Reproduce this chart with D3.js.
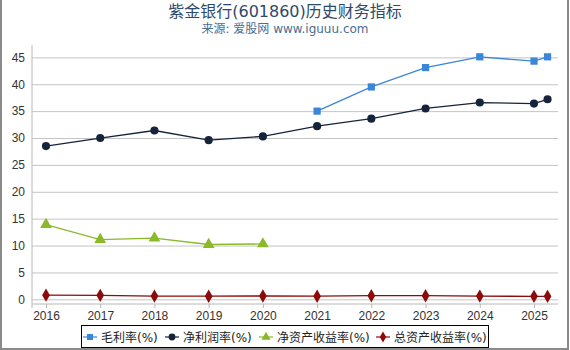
<!DOCTYPE html>
<html>
<head>
<meta charset="utf-8">
<script src="https://cdn.jsdelivr.net/npm/d3@7"></script>
<style>
  body { margin: 0; background: #fff; }
  svg { font-family: "DejaVu Sans", "Noto Sans CJK SC", sans-serif; display: block; }
</style>
</head>
<body>
<svg width="570" height="350"></svg>
<script>
const years = [2016, 2017, 2018, 2019, 2020, 2021, 2022, 2023, 2024, 2025, 2025.25];
const yearTicks = [2016, 2017, 2018, 2019, 2020, 2021, 2022, 2023, 2024, 2025];
const yTicks = [0, 5, 10, 15, 20, 25, 30, 35, 40, 45];

const grossMargin = [null, null, null, null, null, 35.0, 39.5, 43.1, 45.1, 44.3, 45.1];
const netMargin = [28.5, 30.0, 31.4, 29.6, 30.3, 32.2, 33.6, 35.5, 36.6, 36.4, 37.2];
const roe = [13.9, 11.1, 11.4, 10.2, 10.3, null, null, null, null, null, null];
const roa = [0.78, 0.74, 0.6, 0.58, 0.62, 0.58, 0.68, 0.68, 0.6, 0.55, 0.55];

const seriesNames = ['毛利率(%)', '净利润率(%)', '净资产收益率(%)', '总资产收益率(%)'];
const seriesColors = ['#3a86d8', '#15233b', '#8ab92a', '#8e0a0a'];
const seriesShapes = [d3.symbolSquare, d3.symbolCircle, d3.symbolTriangle, d3.symbolDiamond];
const seriesValues = [grossMargin, netMargin, roe, roa];

const svg = d3.select('svg');
const width = +svg.attr('width');
const height = +svg.attr('height');

const margin = { top: 45, right: 12, bottom: 46, left: 32 };

const xScale = d3.scaleLinear()
    .domain([2016, 2025])
    .range([46, 534]);

const yScale = d3.scaleLinear()
    .domain([-0.87, 47.3])
    .range([304, 45]);

const xEnd = 558;

// title
svg.append('text')
    .attr('x', width / 2)
    .attr('y', 17)
    .attr('text-anchor', 'middle')
    .attr('font-size', 16)
    .attr('fill', '#2d4a6b')
    .text('紫金银行(601860)历史财务指标');

svg.append('text')
    .attr('x', width / 2)
    .attr('y', 33)
    .attr('text-anchor', 'middle')
    .attr('font-size', 12)
    .attr('fill', '#4a6d92')
    .text('来源: 爱股网 www.iguuu.com');

// grid + y axis
const yAxis = d3.axisLeft(yScale)
    .tickValues(yTicks)
    .tickSize(-(xEnd - margin.left))
    .tickPadding(7);

const yAxisG = svg.append('g')
    .attr('transform', `translate(${margin.left},0)`)
    .call(yAxis);

yAxisG.select('.domain').remove();
yAxisG.selectAll('.tick line').attr('stroke', '#c4c4c4');
yAxisG.selectAll('.tick text')
    .attr('font-size', 12)
    .attr('fill', '#333');

svg.append('line')
    .attr('x1', margin.left).attr('x2', margin.left)
    .attr('y1', 45).attr('y2', 308)
    .attr('stroke', '#b8b8b8');

// x axis
const xAxis = d3.axisBottom(xScale)
    .tickValues(yearTicks)
    .tickFormat(d3.format('d'))
    .tickSize(4)
    .tickPadding(3);

const xAxisG = svg.append('g')
    .attr('transform', 'translate(0,304)')
    .call(xAxis);

xAxisG.select('.domain').remove();
xAxisG.selectAll('.tick line').attr('stroke', '#b8b8b8');
xAxisG.selectAll('.tick text')
    .attr('font-size', 12)
    .attr('fill', '#333');

svg.append('line')
    .attr('x1', margin.left).attr('x2', xEnd)
    .attr('y1', 304).attr('y2', 304)
    .attr('stroke', '#b8b8b8');

// series
const lineGenerator = d3.line()
    .defined(d => d.v !== null)
    .x(d => xScale(d.x))
    .y(d => yScale(d.v));

seriesValues.forEach((values, i) => {
    const pts = years.map((x, j) => ({ x: x, v: values[j] }));
    svg.append('path')
        .attr('d', lineGenerator(pts))
        .attr('fill', 'none')
        .attr('stroke', seriesColors[i])
        .attr('stroke-width', 1.3);
    svg.append('g').selectAll('path')
        .data(pts.filter(d => d.v !== null))
        .join('path')
        .attr('transform', d => `translate(${xScale(d.x)},${yScale(d.v)})`)
        .attr('d', d3.symbol(seriesShapes[i], i === 2 ? 60 : 52))
        .attr('fill', seriesColors[i]);
});

// legend
const legendX = [82, 164, 258, 375];
const legend = svg.append('g');
legend.append('rect')
    .attr('x', 81.5).attr('y', 325.5)
    .attr('width', 407).attr('height', 22)
    .attr('fill', '#fff')
    .attr('stroke', '#000');

seriesNames.forEach((name, i) => {
    const lg = legend.append('g').attr('transform', `translate(${legendX[i]},337)`);
    lg.append('line')
        .attr('x1', 1).attr('x2', 15)
        .attr('stroke', seriesColors[i])
        .attr('stroke-opacity', 0.6)
        .attr('stroke-width', 2);
    lg.append('path')
        .attr('transform', 'translate(8,0)')
        .attr('d', d3.symbol(seriesShapes[i], 36))
        .attr('fill', seriesColors[i]);
    lg.append('text')
        .attr('x', 19)
        .attr('y', 4.5)
        .attr('font-size', 12)
        .attr('fill', '#222')
        .text(name);
});

// outer frame
svg.append('path')
    .attr('d', `M1,0 V${height - 1} H${width - 2} V0`)
    .attr('fill', 'none')
    .attr('stroke', '#8a8a8a')
    .attr('stroke-width', 2);
</script>
</body>
</html>
